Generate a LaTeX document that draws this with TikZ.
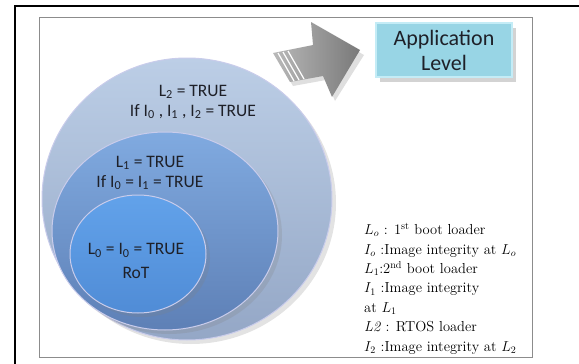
\documentclass[tikz,border=0pt]{standalone}
\usepackage{fontspec}
\newfontfamily\calibri{Carlito}
\usetikzlibrary{shapes.geometric,shadows}

\definecolor{ringtwoA}{RGB}{188,206,230}
\definecolor{ringtwoB}{RGB}{148,167,198}
\definecolor{ringoneA}{RGB}{128,170,224}
\definecolor{ringoneB}{RGB}{94,128,182}
\definecolor{ringzeroA}{RGB}{98,162,234}
\definecolor{ringzeroB}{RGB}{80,140,214}
\definecolor{appfill}{RGB}{152,213,229}
\definecolor{appedge}{RGB}{196,236,246}
\definecolor{inktext}{RGB}{30,32,40}

\tikzset{
  ring/.style={ellipse, inner sep=0pt, outer sep=0pt, shading angle=45,
    draw=white!60!cyan!50!blue!30, line width=1pt,
    drop shadow={shadow xshift=4pt, shadow yshift=-4pt, opacity=0.22}},
  ringtext/.style={align=center, text=inktext, font=\calibri\fontsize{17.5}{20}\selectfont}
}

\begin{document}
\begin{tikzpicture}[x=1pt,y=-1pt]
\useasboundingbox (0,0) rectangle (579,364);
\coordinate (O2) at (187,199);
\coordinate (O1) at (165,231);
\coordinate (O0) at (138,254);
\coordinate (A) at (444,50);
\coordinate (K) at (364,223);

\draw [line width=1.5pt] (15,370) -- (15,6) -- (590,6);
\draw [gray!90, line width=0.9pt] (39,17) rectangle (532,357);

\node[ring, minimum width=290pt, minimum height=282pt,
  top color=ringtwoA, bottom color=ringtwoB] (L2) at (O2) {};
\node[ring, minimum width=226pt, minimum height=198pt,
  top color=ringoneA, bottom color=ringoneB] (L1) at (O1) {};
\node[ring, minimum width=136pt, minimum height=118pt,
  top color=ringzeroA, bottom color=ringzeroB] (L0) at (O0) {};

\node[ringtext] (tL2) at (193,102) {L\textsubscript{2} = TRUE\\If I\textsubscript{0} , I\textsubscript{1} , I\textsubscript{2} = TRUE};
\node[ringtext] (tL1) at (150,173) {L\textsubscript{1} = TRUE\\If I\textsubscript{0} = I\textsubscript{1} = TRUE};
\node[ringtext, font=\calibri\fontsize{17.5}{24}\selectfont] (tL0) at (136,261) {L\textsubscript{0} = I\textsubscript{0} = TRUE\\RoT};

\fill [gray, opacity=0.25] (276,57) -- (316,49) -- (314,26) -- (364,55) -- (335,101) -- (326,80) -- (293,86) -- cycle;
\shade [left color=gray!55, right color=gray!95!black] (273,53) -- (313,45) -- (311,22) -- (360,50) -- (332,97) -- (323,76) -- (290,82) -- cycle;
\draw [white, line width=1.2pt] (278,53) -- (294,81);
\draw [white, line width=1.2pt] (283,52) -- (299,80);
\draw [white, line width=1.2pt] (288,51) -- (304,79);

\node[draw=appedge, line width=1.5pt, fill=appfill, minimum width=136pt, minimum height=54pt,
  align=center, text=inktext, font=\calibri\fontsize{22}{25}\selectfont,
  drop shadow={shadow xshift=4pt, shadow yshift=-5pt, opacity=0.35}] (app) at (A) {Application\\Level};

\node[anchor=north west, inner sep=0pt, align=left, font=\fontsize{14.5}{19.4}\selectfont] (key) at (K)
 {$L_o$ : 1\textsuperscript{st} boot loader\\
  $I_o$ :Image integrity at $L_o$\\
  $L_1$:2\textsuperscript{nd} boot loader\\
  $I_1$ :Image integrity\\
  at $L_1$\\
  \textit{L2} : RTOS loader\\
  $I_2$ :Image integrity at $L_2$};
\end{tikzpicture}
\end{document}
